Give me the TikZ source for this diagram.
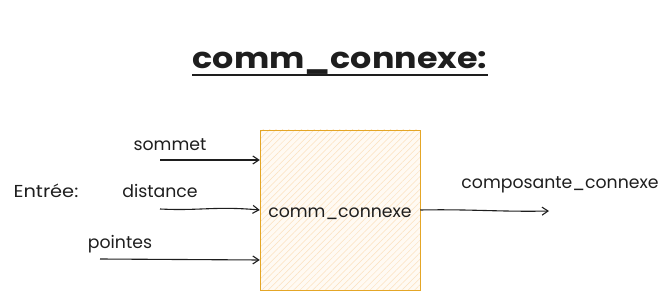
\documentclass[tikz,border=0pt]{standalone}
\usepackage{fontspec}
\setmainfont{Poppins}
\usetikzlibrary{arrows.meta,patterns.meta}
\definecolor{ink}{RGB}{30,30,30}
\definecolor{boxline}{RGB}{228,166,38}
\definecolor{hatch}{RGB}{252,225,190}
\definecolor{boxfill}{RGB}{255,250,243}

\begin{document}
\begin{tikzpicture}[x=1pt,y=-1pt,
  lbl/.style={anchor=base,text=ink,inner sep=0pt,font=\fontsize{17.3}{19}\selectfont},
  flow/.style={ink,line width=1.1pt,-{Straight Barb[length=6pt,width=8pt]}},
  procbox/.style={draw=boxline,thick,minimum width=160pt,minimum height=160pt,inner sep=0pt,
    preaction={fill=boxfill},
    pattern={Lines[angle=45,distance=4.5pt,line width=0.5pt]},pattern color=hatch}]

\useasboundingbox (0,0) rectangle (671,291);

% title
\node[anchor=base,inner sep=0pt,text=ink,font=\fontsize{29}{32}\selectfont\bfseries] (title) at (340,69) {\scalebox{1.15}[1]{comm\textunderscore connexe:}};
\draw[ink,line width=2.5pt] (title.west |- 0,75) -- (title.east |- 0,75);

% the block
\node[procbox] (comm) at (340,210) {};
\node[lbl] (commtxt) at (340,217) {comm\textunderscore connexe};

% inputs
\node[lbl] (entree) at (46,197) {\scalebox{1.12}[1]{Entrée:}};
\node[lbl] (sommet) at (170,150) {sommet};
\node[lbl] (distance) at (160,197) {distance};
\node[lbl] (pointes) at (120,248) {pointes};

\coordinate (s1) at (160,160);
\coordinate (s2) at (160,209);
\coordinate (s3) at (100,259);
\draw[flow] (s1) -- (comm.west |- s1);
\draw[flow] (s2) .. controls (200,211) and (215,206) .. (comm.west |- 0,210);
\draw[flow] (s3) -- (comm.west |- 0,260);

% output
\node[lbl] (sortie) at (560,188) {composante\textunderscore connexe};
\coordinate (out) at (549,211);
\draw[flow] (comm.east |- 0,210) .. controls (470,209) and (500,212) .. (out);

\end{tikzpicture}
\end{document}
